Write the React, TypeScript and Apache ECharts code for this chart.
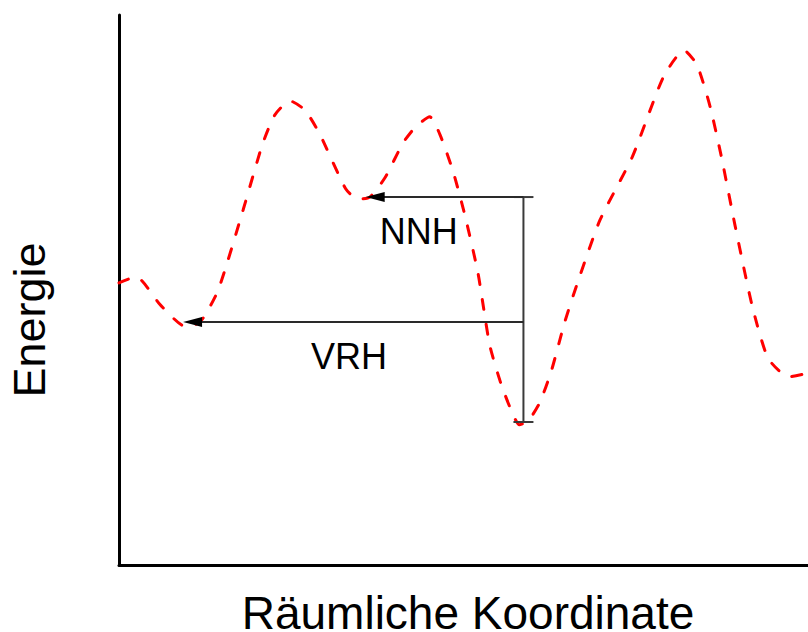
import React, { useEffect, useRef } from "react";
import * as echarts from "echarts";

// Energy landscape (arbitrary units: x 0..100, y 0..100)
const coordX = [0, 2.5, 6.0, 9.7, 11.8, 14.4, 18.0, 20.8, 22.6, 24.8, 27.0, 29.2, 32.9, 34.7, 36.4, 38.6, 41.2, 43.0, 45.1, 46.6, 48.5, 50.2, 52.1, 53.8, 55.4, 56.9, 58.1, 59.4, 61.1, 62.8, 64.7, 66.6, 69.8, 74.5, 79.0, 82.0, 83.9, 85.8, 87.5, 89.4, 91.9, 94.2, 97.2, 100];
const energy = [51.3, 52.4, 47.3, 43.3, 44.2, 50.0, 64.5, 76.4, 81.8, 84.4, 82.7, 78.2, 68.4, 66.5, 66.9, 70.4, 76.7, 79.6, 81.5, 78.2, 71.5, 63.6, 53.1, 40.0, 33.1, 28.2, 25.5, 26.2, 29.6, 35.5, 44.2, 51.5, 62.7, 74.2, 88.7, 93.6, 90.9, 83.3, 73.8, 61.8, 47.1, 37.6, 34.2, 34.9];

// Hops
const hopNames = ["NNH", "VRH"];
const hopFromX = [58.7, 58.7];
const hopToX = [35.8, 9.3];
const hopLevel = [66.9, 44.2];
const hopLabelX = [43.5, 33.4];
const hopLabelY = [60.7, 38.0];

// Vertical bracket
const bracketX = [58.7];
const bracketTop = [66.9];
const bracketBottom = [26.0];

const xTitle = "Räumliche Koordinate";
const yTitle = "Energie";

const FONT = '"Liberation Sans", Arial, sans-serif';

export default function App() {
  const ref = useRef<HTMLDivElement>(null);
  useEffect(() => {
    if (!ref.current) return;
    const chart = echarts.init(ref.current, null, { renderer: "svg" });
    const curve = coordX.map((x, i) => [x, energy[i]]);
    const hops = hopNames.map((n, i) => [hopFromX[i], hopToX[i], hopLevel[i], hopLabelX[i], hopLabelY[i], n]);
    const bracket = bracketX.map((x, i) => [x, bracketTop[i], bracketBottom[i]]);
    chart.setOption({
      animation: false,
      backgroundColor: "#ffffff",
      grid: { left: 119, right: 0, top: 15, bottom: 67 },
      xAxis: {
        type: "value", min: 0, max: 100,
        axisLine: { show: true, lineStyle: { color: "#000", width: 3 } },
        axisTick: { show: false }, axisLabel: { show: false }, splitLine: { show: false },
      },
      yAxis: {
        type: "value", min: 0, max: 100,
        axisLine: { show: true, lineStyle: { color: "#000", width: 3 } },
        axisTick: { show: false }, axisLabel: { show: false }, splitLine: { show: false },
      },
      series: [
        {
          type: "line",
          data: curve,
          smooth: 0.2,
          showSymbol: false,
          symbol: "none",
          lineStyle: { color: "#ff0000", width: 3, type: [10, 15], cap: "round" },
          z: 2,
        },
        {
          type: "custom",
          data: bracket,
          z: 3,
          renderItem: (params: any, api: any) => {
            const top = api.coord([api.value(0), api.value(1)]);
            const bot = api.coord([api.value(0), api.value(2)]);
            const st = { stroke: "#3a3a3a", lineWidth: 2 };
            return {
              type: "group",
              children: [
                { type: "line", shape: { x1: top[0], y1: top[1], x2: bot[0], y2: bot[1] }, style: st },
                { type: "line", shape: { x1: top[0] - 10, y1: top[1], x2: top[0] + 10, y2: top[1] }, style: st },
                { type: "line", shape: { x1: bot[0] - 10, y1: bot[1], x2: bot[0] + 10, y2: bot[1] }, style: st },
              ],
            };
          },
        },
        {
          type: "custom",
          data: hops,
          z: 4,
          renderItem: (params: any, api: any) => {
            const from = api.coord([api.value(0), api.value(2)]);
            const tip = api.coord([api.value(1), api.value(2)]);
            const lab = api.coord([api.value(3), api.value(4)]);
            const name = hops[params.dataIndex][5] as string;
            const headLen = 19;
            const headHalf = 5;
            return {
              type: "group",
              children: [
                { type: "line", shape: { x1: from[0], y1: from[1], x2: tip[0] + headLen - 2, y2: tip[1] }, style: { stroke: "#2a2a2a", lineWidth: 2 } },
                {
                  type: "polygon",
                  shape: { points: [[tip[0], tip[1]], [tip[0] + headLen, tip[1] - headHalf], [tip[0] + headLen, tip[1] + headHalf]] },
                  style: { fill: "#000" },
                },
                {
                  type: "text",
                  style: { text: name, x: lab[0], y: lab[1], align: "center", verticalAlign: "middle", font: `36px ${FONT}`, fill: "#000" },
                },
              ],
            };
          },
        },
      ],
      graphic: [
        {
          type: "text", x: 468, y: 613,
          style: { text: xTitle, align: "center", verticalAlign: "middle", font: `46px ${FONT}`, fill: "#000" },
        },
        {
          type: "text", x: 29, y: 320, rotation: Math.PI / 2,
          style: { text: yTitle, align: "center", verticalAlign: "middle", font: `45px ${FONT}`, fill: "#000" },
        },
      ],
    });
    return () => chart.dispose();
  }, []);
  return <div ref={ref} style={{ position: "fixed", left: 0, top: 0, width: 808, height: 632 }} />;
}
